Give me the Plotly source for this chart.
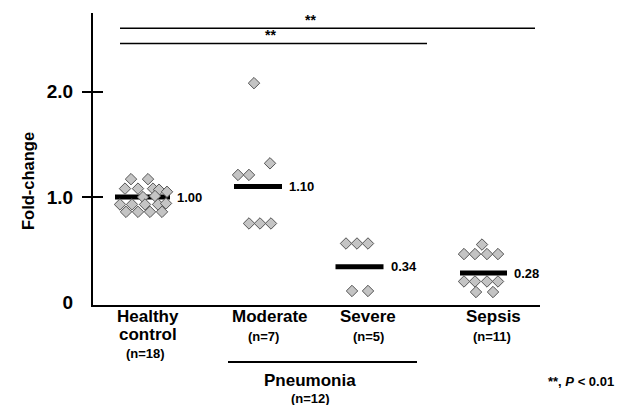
import plotly.graph_objects as go

# ---------------- data ----------------
groups = ["Healthy control", "Moderate", "Severe", "Sepsis"]
group_n = ["(n=18)", "(n=7)", "(n=5)", "(n=11)"]
mean_values = [1.00, 1.10, 0.34, 0.28]
mean_labels = ["1.00", "1.10", "0.34", "0.28"]

healthy = [1.17, 1.17, 1.08, 1.08, 1.08, 1.07, 1.05, 1.00, 1.01,
           0.93, 0.93, 0.93, 0.93, 0.94, 0.86, 0.86, 0.86, 0.86]
moderate = [2.08, 1.32, 1.21, 1.21, 0.75, 0.75, 0.75]
severe = [0.56, 0.56, 0.56, 0.11, 0.11]
sepsis = [0.55, 0.46, 0.46, 0.46, 0.46, 0.20, 0.20, 0.20, 0.20, 0.10, 0.10]

ytick_vals = [0, 1, 2]
ytick_text = ["0", "1.0", "2.0"]

sig_levels = [2.60, 2.456]
sig_text = ["**", "**"]

# ---------------- layout positions (x axis in plot units) ----------------
group_centers = [142.5, 258, 359.5, 483.5]
half_widths = [27.5, 24, 24, 23.5]
healthy_x = [131, 148, 125, 138, 153, 159, 167, 143, 155,
             120, 132, 145, 158, 166, 126, 138, 150, 162]
moderate_x = [254, 270, 238, 249, 249, 260, 271]
severe_x = [346, 357, 368, 352, 368]
sepsis_x = [482, 464, 475, 487, 498, 464, 475, 487, 498, 476, 493]
sig_x = [(120, 535), (120, 427)]
sig_text_x = [310, 270]

FONT = "Liberation Sans, Arial, Helvetica, sans-serif"
X0, X1 = 93, 540
YMIN, YMAX = -0.023, 2.745
PLOT_TOP, PLOT_BOT = 13, 305

def py(ypx):
    return (PLOT_BOT - ypx) / (PLOT_BOT - PLOT_TOP)

def pxp(xpx):
    return (xpx - X0) / (X1 - X0)

fig = go.Figure()

# mean bars
for c, hw, m in zip(group_centers, half_widths, mean_values):
    fig.add_trace(go.Scatter(x=[c - hw, c + hw], y=[m, m], mode="lines",
                             line=dict(color="black", width=5),
                             hoverinfo="skip", showlegend=False))

# points
for xs, ys in [(healthy_x, healthy), (moderate_x, moderate),
               (severe_x, severe), (sepsis_x, sepsis)]:
    fig.add_trace(go.Scatter(x=xs, y=ys, mode="markers",
                             marker=dict(symbol="diamond", size=8.8, color="#c4c4c4",
                                         line=dict(color="#555555", width=1)),
                             showlegend=False))

# significance lines
for (a, b), lvl in zip(sig_x, sig_levels):
    fig.add_trace(go.Scatter(x=[a, b], y=[lvl, lvl], mode="lines",
                             line=dict(color="black", width=1.4),
                             hoverinfo="skip", showlegend=False))

# invisible traces for crossing tick axes
for ax in ["y2", "y3"]:
    fig.add_trace(go.Scatter(x=[X0], y=[1], yaxis=ax, mode="markers",
                             marker=dict(opacity=0), hoverinfo="skip", showlegend=False))

ann = []
for c, hw, m, lab in zip(group_centers, half_widths, mean_values, mean_labels):
    ann.append(dict(x=c + hw + 5, y=m, xref="x", yref="y", text="<b>" + lab + "</b>",
                    showarrow=False, xanchor="left", yanchor="middle",
                    font=dict(family=FONT, size=13, color="black")))
for tx, lvl, t in zip(sig_text_x, sig_levels, sig_text):
    ann.append(dict(x=tx, y=lvl, xref="x", yref="y", text="<b>" + t + "</b>", showarrow=False,
                    xanchor="center", yanchor="bottom", yshift=-2,
                    font=dict(family=FONT, size=14, color="black")))

def lab(x, ypx, text, size):
    ann.append(dict(x=pxp(x), y=py(ypx), xref="paper", yref="paper", text="<b>" + text + "</b>",
                    showarrow=False, xanchor="center", yanchor="middle",
                    font=dict(family=FONT, size=size, color="black")))

lab(148, 316, "Healthy", 17)
lab(148, 334, "control", 17)
lab(145, 353, group_n[0], 13)
lab(270, 316, groups[1], 17)
lab(263, 336, group_n[1], 13)
lab(368, 316, groups[2], 17)
lab(368, 336, group_n[2], 13)
lab(493, 316, groups[3], 17)
lab(492, 336, group_n[3], 13)
lab(310, 380, "Pneumonia", 17)
lab(310, 398, "(n=12)", 13)
lab(581, 381, "**, <i>P</i> < 0.01", 13)

ann.append(dict(x=pxp(28), y=py(181), xref="paper", yref="paper",
                text="<b>Fold-change</b>", textangle=-90, showarrow=False,
                xanchor="center", yanchor="middle",
                font=dict(family=FONT, size=16.5, color="black")))

shapes = [dict(type="line", xref="paper", yref="paper", x0=pxp(228), x1=pxp(417),
               y0=py(362), y1=py(362), line=dict(color="black", width=2))]

tick_common = dict(overlaying="y", range=[YMIN, YMAX], tickvals=[1, 2],
                   showticklabels=False, showline=False, showgrid=False,
                   zeroline=False, ticklen=10, tickwidth=2, tickcolor="black",
                   anchor="x", side="left")

fig.update_layout(
    width=630, height=405,
    margin=dict(l=X0, r=630 - X1, t=PLOT_TOP, b=405 - PLOT_BOT),
    paper_bgcolor="white", plot_bgcolor="white",
    xaxis=dict(range=[X0, X1], showline=True, linecolor="black", linewidth=2,
               showticklabels=False, ticks="", showgrid=False, zeroline=False),
    yaxis=dict(range=[YMIN, YMAX], showline=True, linecolor="black", linewidth=2,
               tickvals=ytick_vals, ticktext=ytick_text, ticks="outside", ticklen=14,
               tickcolor="rgba(0,0,0,0)", showgrid=False, zeroline=False,
               tickfont=dict(family=FONT, size=19, color="black", weight="bold")),
    yaxis2=dict(ticks="outside", **tick_common),
    yaxis3=dict(ticks="inside", **tick_common),
    annotations=ann, shapes=shapes, showlegend=False,
)

fig.write_html("out.html", config={"displayModeBar": False},
               post_script="document.body.style.margin='0';document.body.style.overflow='hidden';")
